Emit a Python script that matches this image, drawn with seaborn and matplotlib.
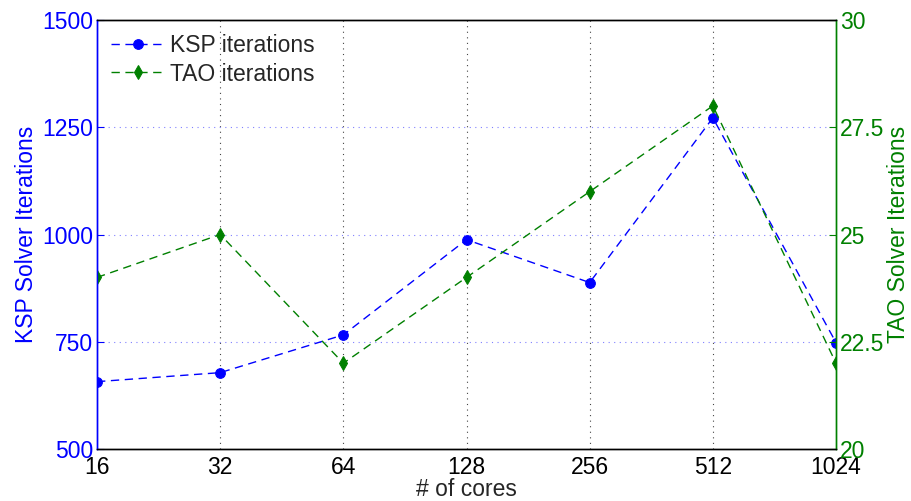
import matplotlib
matplotlib.use("Agg")
import matplotlib.pyplot as plt
import seaborn as sns
import pandas as pd

cores = ["16", "32", "64", "128", "256", "512", "1024"]
ksp_iterations = [657, 678, 766, 988, 888, 1272, 748]
tao_iterations = [24, 25, 22, 24, 26, 28, 22]

sns.set_style("white")
plt.rcParams["font.family"] = ["Liberation Sans", "DejaVu Sans"]

df = pd.DataFrame({"pos": range(len(cores)), "cores": cores,
                   "ksp": ksp_iterations, "tao": tao_iterations})

fig = plt.figure(figsize=(9.11, 5.01), dpi=100)
ax = fig.add_axes([0.1065, 0.1038, 0.8112, 0.8562])
ax2 = ax.twinx()

blue = "#0000ff"
green = "#008000"
dash = (0, (6, 4))

sns.lineplot(data=df, x="pos", y="ksp", ax=ax, color=blue, linestyle=dash,
             marker="o", markersize=7, markeredgecolor=blue, linewidth=1,
             label="KSP iterations", legend=False)
sns.lineplot(data=df, x="pos", y="tao", ax=ax2, color=green, linestyle=dash,
             marker="d", markersize=7.5, markeredgecolor=green, linewidth=1,
             label="TAO iterations", legend=False)

ax.set_xlim(0, len(cores) - 1)
ax.set_ylim(500, 1500)
ax2.set_ylim(20, 30)
ax.set_xticks(range(len(cores)))
ax.set_xticklabels(cores)
ax.set_yticks([500, 750, 1000, 1250, 1500])
ax2.set_yticks([20, 22.5, 25, 27.5, 30])
ax2.set_yticklabels(["20", "22.5", "25", "27.5", "30"])

fs = 16.5
ax.tick_params(axis="x", labelsize=fs, colors="black", direction="in", length=5, pad=5)
ax.tick_params(axis="y", labelsize=fs, colors=blue, labelcolor=blue, direction="in", length=5, pad=3)
ax2.tick_params(axis="y", labelsize=fs, colors=green, labelcolor=green, direction="in", length=5, pad=3)

ax.set_xlabel("# of cores", fontsize=fs, labelpad=-1)
ax.set_ylabel("KSP Solver Iterations", fontsize=fs, color=blue, labelpad=3)
ax2.set_ylabel("TAO Solver Iterations", fontsize=fs, color=green, labelpad=1.5)

ax.grid(False)
ax2.grid(False)
for x in range(1, len(cores) - 1):
    ax.axvline(x, color="#444444", linestyle=(0, (1, 4)), linewidth=0.8, zorder=0)
for y in [750, 1000, 1250]:
    ax.axhline(y, color="#8080ff", linestyle=(0, (1, 4)), linewidth=0.8, zorder=0)

for a in (ax, ax2):
    for s in a.spines.values():
        s.set_visible(True)
        s.set_linewidth(1)
ax.spines["left"].set_color(blue)
ax2.spines["left"].set_color(blue)
ax.spines["right"].set_color(green)
ax2.spines["right"].set_color(green)
for a in (ax, ax2):
    a.spines["top"].set_color("black")
    a.spines["bottom"].set_color("black")

h1, l1 = ax.get_legend_handles_labels()
h2, l2 = ax2.get_legend_handles_labels()
leg = ax2.legend(h1 + h2, l1 + l2, loc="upper left", frameon=False,
                 fontsize=fs, handlelength=2.4, borderaxespad=0.2,
                 handletextpad=0.2, labelspacing=0.25)

fig.savefig("out.png", dpi=100)
